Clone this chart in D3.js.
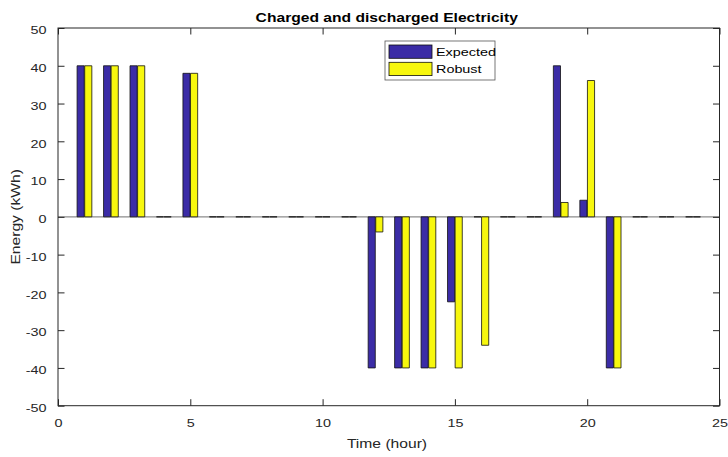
<!DOCTYPE html>
<html>
<head>
<meta charset="utf-8">
<script src="https://cdn.jsdelivr.net/npm/d3@7"></script>
<style>
  html, body { margin: 0; padding: 0; background: #fff; }
  svg { display: block; font-family: "Liberation Sans", Arial, Helvetica, sans-serif; }
</style>
</head>
<body>
<svg id="chart" width="728" height="457"></svg>
<script>
// Hourly battery schedule (kWh): positive = charged, negative = discharged
const hours = d3.range(1, 25);
const expected = [40, 40, 40, 0, 38, 0, 0, 0, 0, 0, 0, -40,
                  -40, -40, -22.5, 0, 0, 0, 40, 4.4, -40, 0, 0, 0];
const robust   = [40, 40, 40, 0, 38, 0, 0, 0, 0, 0, 0, -4,
                  -40, -40, -40, -34, 0, 0, 3.8, 36.1, -40, 0, 0, 0];
const seriesNames = ["Expected", "Robust"];
const seriesColors = ["#3b2ca6", "#f7f70e"];
const xTicks = [0, 5, 10, 15, 20, 25];
const yTicks = [-50, -40, -30, -20, -10, 0, 10, 20, 30, 40, 50];

const svg = d3.select("#chart");
const plot = { left: 58, right: 719.5, top: 28, bottom: 405.7 };

const x = d3.scaleLinear().domain([0, 25]).range([plot.left, plot.right]);
const y = d3.scaleLinear().domain([-50, 50]).range([plot.bottom, plot.top]);
// position of each series within an hour slot
const slot = d3.scaleBand().domain(seriesNames).range([-0.29, 0.29]).paddingInner(0.06).paddingOuter(0.04);

const axisColor = "#262626";
const fmt = d => String(d); // plain hyphen-minus for negatives

// baseline at zero
svg.append("line")
  .attr("x1", plot.left).attr("x2", plot.right)
  .attr("y1", y(0)).attr("y2", y(0))
  .attr("stroke", "#8c8c8c").attr("stroke-width", 1.4);

// bars (drawn as paths so zero-height bars still show their edge)
const series = [expected, robust];
series.forEach((vals, si) => {
  const name = seriesNames[si];
  svg.append("g").selectAll("path")
    .data(hours.map((h, i) => ({ h, v: vals[i] })))
    .join("path")
    .attr("d", d => {
      const x0 = x(d.h + slot(name));
      const x1 = x(d.h + slot(name) + slot.bandwidth());
      const y0 = y(0), y1 = y(d.v);
      return `M${x0},${y0}H${x1}V${y1}H${x0}Z`;
    })
    .attr("fill", seriesColors[si])
    .attr("stroke", "#111")
    .attr("stroke-width", 0.8);
});

// axes with inward ticks on all four sides
const tickLen = 6.5;
svg.append("rect").attr("x", plot.left).attr("y", plot.top)
  .attr("width", plot.right - plot.left).attr("height", plot.bottom - plot.top)
  .attr("fill", "none").attr("stroke", axisColor).attr("stroke-width", 1);

const xAxis = d3.axisBottom(x).tickValues(xTicks).tickSize(-tickLen).tickPadding(tickLen + 6.5).tickFormat(fmt);
const xAxisTop = d3.axisTop(x).tickValues(xTicks).tickSize(-tickLen).tickFormat("");
const yAxis = d3.axisLeft(y).tickValues(yTicks).tickSize(-tickLen).tickPadding(tickLen + 5).tickFormat(fmt);
const yAxisRight = d3.axisRight(y).tickValues(yTicks).tickSize(-tickLen).tickFormat("");

function style(g) {
  g.select(".domain").remove();
  g.selectAll(".tick line").attr("stroke", axisColor);
  g.selectAll(".tick text").attr("fill", axisColor).attr("font-size", 11.5)
    .attr("font-family", "Liberation Sans, Arial, sans-serif");
}
svg.append("g").attr("transform", `translate(0,${plot.bottom})`).call(xAxis).call(style);
svg.append("g").attr("transform", `translate(0,${plot.top})`).call(xAxisTop).call(style);
svg.append("g").attr("class", "yleft").attr("transform", `translate(${plot.left},0)`).call(yAxis).call(style);
svg.append("g").attr("transform", `translate(${plot.right},0)`).call(yAxisRight).call(style);
svg.selectAll(".yleft .tick text").attr("dy", "0.5em");

// titles
svg.append("text")
  .attr("x", (plot.left + plot.right) / 2 - 2).attr("y", 21.5)
  .attr("text-anchor", "middle").attr("font-weight", "bold").attr("font-size", 12.5)
  .attr("fill", "#000")
  .text("Charged and discharged Electricity");

svg.append("text")
  .attr("x", 387).attr("y", 447.5)
  .attr("text-anchor", "middle").attr("font-size", 12.5).attr("fill", axisColor)
  .text("Time (hour)");

svg.append("text")
  .attr("transform", `translate(20,${(plot.top + plot.bottom) / 2}) rotate(-90)`)
  .attr("text-anchor", "middle").attr("font-size", 12.5).attr("fill", axisColor)
  .text("Energy (kWh)");

// legend
const lg = svg.append("g").attr("transform", "translate(385,41)");
lg.append("rect").attr("width", 110).attr("height", 39)
  .attr("fill", "#fff").attr("stroke", "#555").attr("stroke-width", 0.8);
seriesNames.forEach((name, i) => {
  const row = lg.append("g").attr("transform", `translate(4,${4 + i * 17.3})`);
  row.append("rect").attr("width", 43).attr("height", 13.3)
    .attr("fill", seriesColors[i]).attr("stroke", "#111").attr("stroke-width", 0.8);
  row.append("text").attr("x", 47).attr("y", 11).attr("font-size", 11.5)
    .attr("fill", "#000").text(name);
});

// the chart's lettering is set wide: stretch every label along its baseline
svg.selectAll("text").each(function () {
  const w = this.getComputedTextLength();
  if (w > 0) {
    d3.select(this).attr("textLength", w * 1.25).attr("lengthAdjust", "spacingAndGlyphs");
  }
});
</script>
</body>
</html>
